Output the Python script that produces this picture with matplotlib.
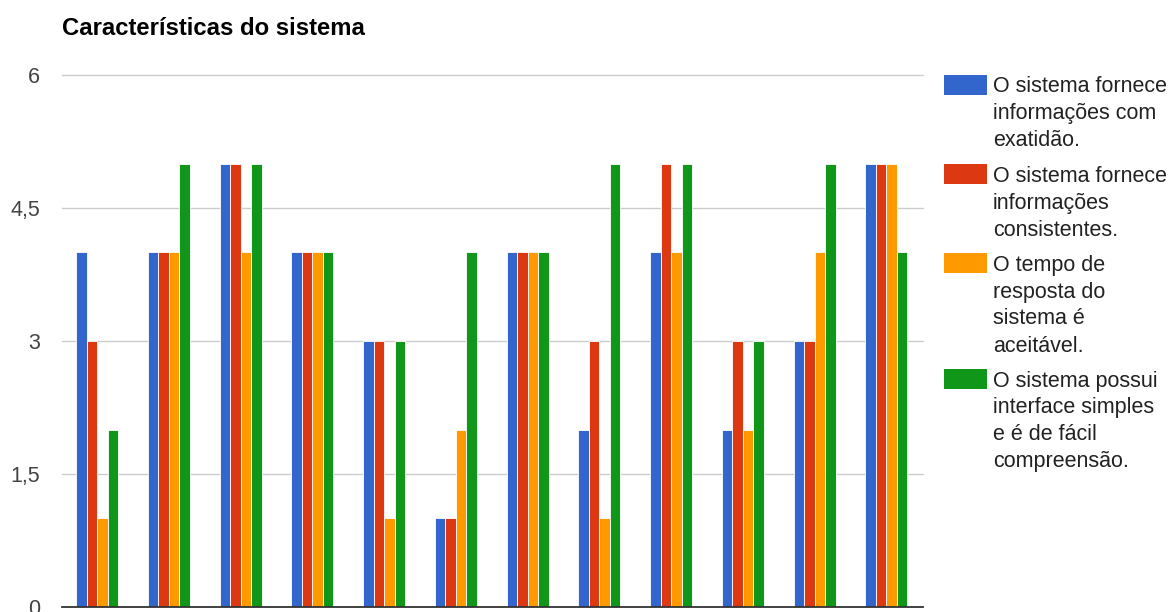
import numpy as np
import matplotlib
matplotlib.use("Agg")
import matplotlib.pyplot as plt
from matplotlib.patches import Rectangle

plt.rcParams['font.family'] = ['Liberation Sans', 'DejaVu Sans']

title = "Características do sistema"
groups = list(range(1, 13))
series_names = [
    "O sistema fornece\ninformações com\nexatidão.",
    "O sistema fornece\ninformações\nconsistentes.",
    "O tempo de\nresposta do\nsistema é\naceitável.",
    "O sistema possui\ninterface simples\ne é de fácil\ncompreensão.",
]
exatidao = [4, 4, 5, 4, 3, 1, 4, 2, 4, 2, 3, 5]
consistencia = [3, 4, 5, 4, 3, 1, 4, 3, 5, 3, 3, 5]
tempo_resposta = [1, 4, 4, 4, 1, 2, 4, 1, 4, 2, 4, 5]
interface = [2, 5, 5, 4, 3, 4, 4, 5, 5, 3, 5, 4]
series_values = [exatidao, consistencia, tempo_resposta, interface]
colors = ["#3366cc", "#dc3912", "#ff9900", "#109618"]
y_ticks = [0, 1.5, 3, 4.5, 6]
y_tick_labels = ["0", "1,5", "3", "4,5", "6"]

W, H = 1171, 612
fig = plt.figure(figsize=(W / 100, H / 100), dpi=100)
ax = fig.add_axes([62 / W, 5 / H, 861 / W, 532 / H])

x = np.arange(len(groups))
bw = 0.1465
for i, (vals, col) in enumerate(zip(series_values, colors)):
    ax.bar(x + (i - 1.5) * bw - 0.01, vals, width=bw, color=col,
           edgecolor="white", linewidth=0.6, zorder=3)

ax.set_xlim(-0.5, len(groups) - 0.5)
ax.set_ylim(0, 6)
ax.set_xticks([])
ax.set_yticks(y_ticks)
ax.set_yticklabels(y_tick_labels)
ax.tick_params(axis="y", length=0, pad=16, labelsize=15.5, labelcolor="#444444")
for s in ax.spines.values():
    s.set_visible(False)

for t in y_ticks[1:]:
    ax.axhline(t, color="#cccccc", linewidth=1.0, zorder=1, clip_on=False)
ax.axhline(0, color="#333333", linewidth=1.3, zorder=4, clip_on=False)

fig.text(62 / W, 1 - 28.5 / H, title, fontsize=17.2, fontweight="bold",
         color="#000000", ha="left", va="center")

# legend on the right: colour box aligned with the first line of each label
box_tops = [75, 164, 253, 369]
line_h = 27
for top, name, col in zip(box_tops, series_names, colors):
    fig.patches.append(Rectangle((944 / W, 1 - (top + 20) / H), 43 / W, 20 / H,
                                 transform=fig.transFigure, facecolor=col,
                                 edgecolor="none"))
    for j, line in enumerate(name.split("\n")):
        base = top + 17.5 + j * line_h
        fig.text(993 / W, 1 - base / H, line, fontsize=15.5, color="#222222",
                 ha="left", va="baseline")

fig.savefig("out.png", dpi=100)
